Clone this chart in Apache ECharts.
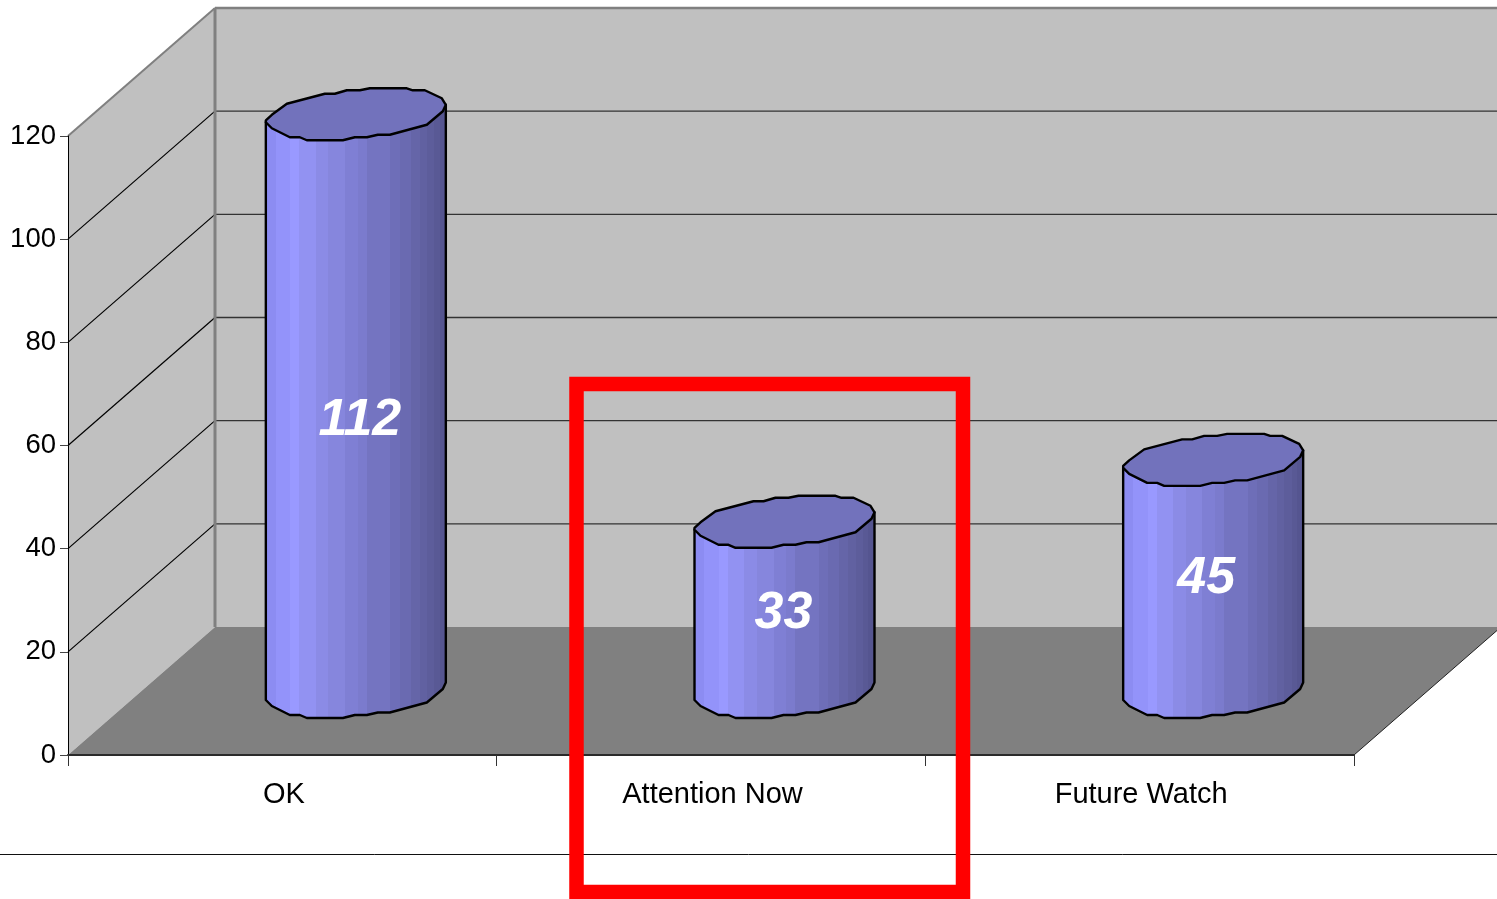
<!DOCTYPE html>
<html>
<head>
<meta charset="utf-8">
<style>html,body{margin:0;padding:0;background:#fff;overflow:hidden}#c{width:1497px;height:899px}</style>
<script src="https://cdn.jsdelivr.net/npm/echarts@6/dist/echarts.min.js"></script>
</head>
<body>
<div id="c"></div>
<script>
const categories = ['OK', 'Attention Now', 'Future Watch'];
const values = [112, 33, 45];
const yTicks = [20, 40, 60, 80, 100, 120];

// 3D look: depth of the box and outline of the cylinder cross-section
const DEPTH = [147, -128];
const rim = [[-90,7],[-84,1.5],[-69,-9.5],[-31,-19.5],[-21,-19.5],[-9,-23],[4,-23],[14,-25],[51,-25],[57,-23],[69,-23],[86,-15],[90,-8.5],
             [87,-2],[71,11.5],[34,21.5],[22,21.5],[11,24],[-1,24],[-13,27],[-49,27],[-56,24],[-66,24],[-84,15],[-90,9]];
const rimFrontStart = 12;
const bands = [[0.06,'#8c8cf2'],[0.14,'#9393fa'],[0.19,'#9999ff'],[0.28,'#9292f2'],[0.35,'#8b8be6'],[0.44,'#8686dd'],[0.51,'#7f7fd4'],[0.56,'#7b7bcd'],
               [0.69,'#7474c1'],[0.74,'#6e6eb8'],[0.80,'#6a6ab1'],[0.85,'#6565a8'],[0.89,'#6161a1'],[0.93,'#5d5d9b'],[0.96,'#595995'],[1,'#555590']];
const labelNudge = [[4,19],[-1,8],[-7,4]];

const stops = [];
let prev = 0;
bands.forEach(b => { stops.push({offset:prev,color:b[1]},{offset:b[0],color:b[1]}); prev = b[0]; });
const sideFill = {type:'linear',x:0,y:0,x2:1,y2:0,colorStops:stops};

function renderFrame(params, api) {
  const cs = params.coordSys;
  const L = cs.x, R = cs.x + cs.width, B = api.coord([0,0])[1], T = api.coord([0,120])[1];
  const dx = DEPTH[0], dy = DEPTH[1];
  const kids = [
    {type:'polygon',shape:{points:[[L,B],[L,T],[L+dx,T+dy],[L+dx,B+dy]]},style:{fill:'#c0c0c0'}},
    {type:'polygon',shape:{points:[[L+dx,T+dy],[R+dx,T+dy],[R+dx,B+dy],[L+dx,B+dy]]},style:{fill:'#c0c0c0'}},
    {type:'polygon',shape:{points:[[L,B],[L+dx,B+dy],[R+dx,B+dy],[R,B]]},style:{fill:'#808080'}}
  ];
  yTicks.forEach(v => {
    const y = api.coord([0,v])[1];
    if (v < 120) {
      kids.push({type:'line',shape:{x1:L,y1:y,x2:L+dx,y2:y+dy},style:{stroke:'#000',lineWidth:1.2}});
    }
    kids.push({type:'line',shape:{x1:L+dx,y1:y+dy,x2:R+dx,y2:y+dy},style:{stroke:'#333',lineWidth:1.3}});
  });
  kids.push(
    {type:'line',shape:{x1:L,y1:T,x2:L+dx,y2:T+dy},style:{stroke:'#808080',lineWidth:2}},
    {type:'line',shape:{x1:L+dx,y1:T+dy,x2:R+dx,y2:T+dy},style:{stroke:'#808080',lineWidth:2.5}},
    {type:'line',shape:{x1:L+dx,y1:T+dy,x2:L+dx,y2:B+dy},style:{stroke:'#808080',lineWidth:3}},
    {type:'line',shape:{x1:R,y1:B,x2:R+dx,y2:B+dy},style:{stroke:'#222',lineWidth:1}}
  );
  return {type:'group',children:kids};
}

function renderCylinder(params, api) {
  const i = api.value(0), v = api.value(1);
  const front = api.coord([i, v]);
  const cx = front[0] + DEPTH[0]/2, cy = front[1] + DEPTH[1]/2;
  const h = api.size([0, v])[1];
  const top = rim.map(p => [cx+p[0], cy+p[1]]);
  const base = rim.slice(rimFrontStart).map(p => [cx+p[0], cy+p[1]+h]);
  const topRight = [cx+rim[rimFrontStart][0], cy+rim[rimFrontStart][1]];
  const last = rim[rim.length-1];
  const side = [topRight].concat(base, [[cx+last[0], cy+last[1]]]);
  const n = labelNudge[i];
  return {type:'group',children:[
    {type:'polygon',shape:{points:side},style:{fill:sideFill,stroke:'#000',lineWidth:2.4,lineJoin:'round'}},
    {type:'polygon',shape:{points:top},style:{fill:'#7272bc',stroke:'#000',lineWidth:2.4,lineJoin:'round'}},
    {type:'text',x:cx+n[0],y:cy+h/2+n[1],style:{text:String(v),fill:'#fff',font:'italic bold 52px "Liberation Sans"',align:'center',verticalAlign:'middle'}}
  ]};
}

const chart = echarts.init(document.getElementById('c'), null, {renderer:'canvas'});
chart.setOption({
  animation:false,
  backgroundColor:'#fff',
  grid:{left:68,top:136,width:1286,height:619},
  xAxis:{type:'category',data:categories,z:5,boundaryGap:true,
    axisLine:{lineStyle:{color:'#2a2a2a',width:2}},
    axisTick:{show:true,length:11,alignWithLabel:false,lineStyle:{color:'#333',width:1}},
    axisLabel:{color:'#000',fontFamily:'Liberation Sans',fontSize:29,margin:25,padding:[0,0,0,3],interval:0},
    splitLine:{show:false}},
  yAxis:{type:'value',min:0,max:120,interval:20,z:5,
    axisLine:{show:true,lineStyle:{color:'#000',width:1}},
    axisTick:{show:true,length:8,lineStyle:{color:'#444',width:1}},
    axisLabel:{color:'#000',fontFamily:'Liberation Sans',fontSize:27.5,margin:12,padding:[3,0,0,0]},
    splitLine:{show:false}},
  series:[
    {type:'custom',z:1,silent:true,renderItem:renderFrame,data:[0],encode:{x:0}},
    {type:'custom',z:6,silent:true,renderItem:renderCylinder,
      data:values.map((v,i)=>[i,v]),encode:{x:0,y:1}}
  ],
  graphic:[
    {type:'line',z:100,shape:{x1:0,y1:854.5,x2:1497,y2:854.5},style:{stroke:'#111',lineWidth:1}},
    {type:'rect',z:101,shape:{x:576.5,y:384,width:386.5,height:508},style:{fill:'none',stroke:'#ff0000',lineWidth:14.5}}
  ]
});
</script>
</body>
</html>
